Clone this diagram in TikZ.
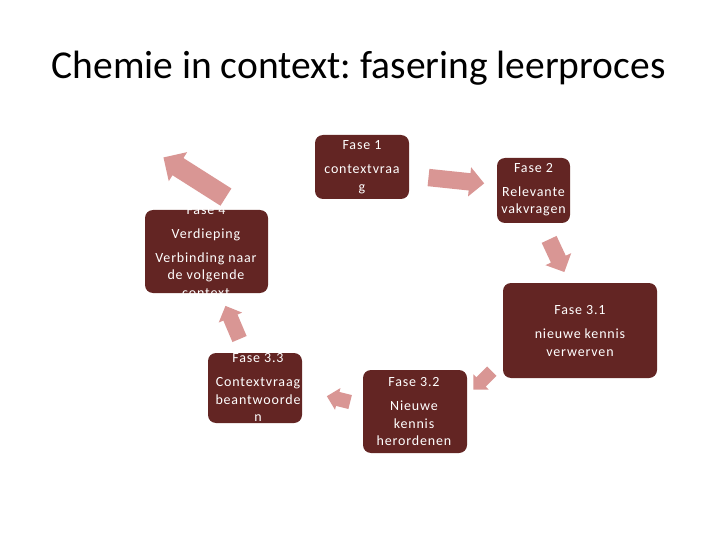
\documentclass[tikz,border=0pt]{standalone}
\usepackage{fontspec}
\setmainfont{Carlito}
\usetikzlibrary{shapes.arrows}
\definecolor{boxred}{HTML}{632523}
\definecolor{arrowpink}{HTML}{D99694}
\tikzset{
  phasebox/.style={draw=none, fill=boxred, rounded corners=8pt, inner sep=0pt},
  phasetext/.style={text=white, align=center, font=\fontsize{14}{17.5}\selectfont\addfontfeature{LetterSpace=6}, inner sep=0pt},
  flowarrow/.style={single arrow, fill=arrowpink, draw=none, inner xsep=0pt,
    single arrow tip angle=90},
}
\begin{document}
\frenchspacing
\begin{tikzpicture}[x=1pt,y=-1pt]
\useasboundingbox (0,0) rectangle (720,540);
\node[font=\fontsize{39.5}{44}\selectfont, anchor=base, inner sep=0pt] (title) at (358.5,79) {Chemie in context: fasering leerproces};

% boxes
\node[phasebox, minimum width=94pt, minimum height=64pt] (b1) at (362,167) {};
\node[phasebox, minimum width=73pt, minimum height=65pt] (b2) at (533.5,190.5) {};
\node[phasebox, minimum width=154pt, minimum height=95pt] (b31) at (580,330.5) {};
\node[phasebox, minimum width=104pt, minimum height=83pt] (b32) at (415,411.5) {};
\node[phasebox, minimum width=94pt, minimum height=70pt] (b33) at (255,388) {};
\node[phasebox, minimum width=123pt, minimum height=83pt] (b4) at (206.5,251.5) {};

% texts
\node[phasetext] (t1) at (b1.center) {Fase 1\\[6.5pt]contextvraa\\g};
\node[phasetext] (t2) at ([yshift=1pt]b2.center) {Fase 2\\[6.5pt]Relevante\\vakvragen};
\node[phasetext] (t31) at (580,331) {Fase 3.1\\[6.5pt]nieuwe kennis\\verwerven};
\node[phasetext] (t32) at (414,412) {Fase 3.2\\[6.5pt]Nieuwe\\kennis\\herordenen};
\node[phasetext] (t33) at (258,387.5) {Fase 3.3\\[6.5pt]Contextvraag\\beantwoorde\\n};
\node[phasetext] (t4) at (206,251.5) {Fase 4\\[6.5pt]Verdieping\\[6.5pt]Verbinding naar\\de volgende\\context};

% arrows
\node[flowarrow, inner ysep=8.5pt, single arrow head extend=6pt, minimum height=56pt, rotate=-6] (a1) at (452,180) {};
\node[flowarrow, inner ysep=8pt, single arrow head extend=6pt, minimum height=36pt, rotate=-65] (a2) at (555,252) {};
\node[flowarrow, inner ysep=6.5pt, single arrow head extend=4pt, minimum height=26pt, rotate=-135] (a3) at (485,378) {};
\node[flowarrow, inner ysep=7pt, single arrow head extend=4pt, minimum height=24pt, rotate=166] (a4) at (342,400) {};
\node[flowarrow, inner ysep=7.5pt, single arrow head extend=5pt, minimum height=36pt, rotate=113] (a5) at (234,326) {};
\node[flowarrow, inner ysep=10pt, single arrow head extend=7pt, minimum height=74pt, rotate=147.6] (a6) at (199,180) {};
\end{tikzpicture}
\end{document}
